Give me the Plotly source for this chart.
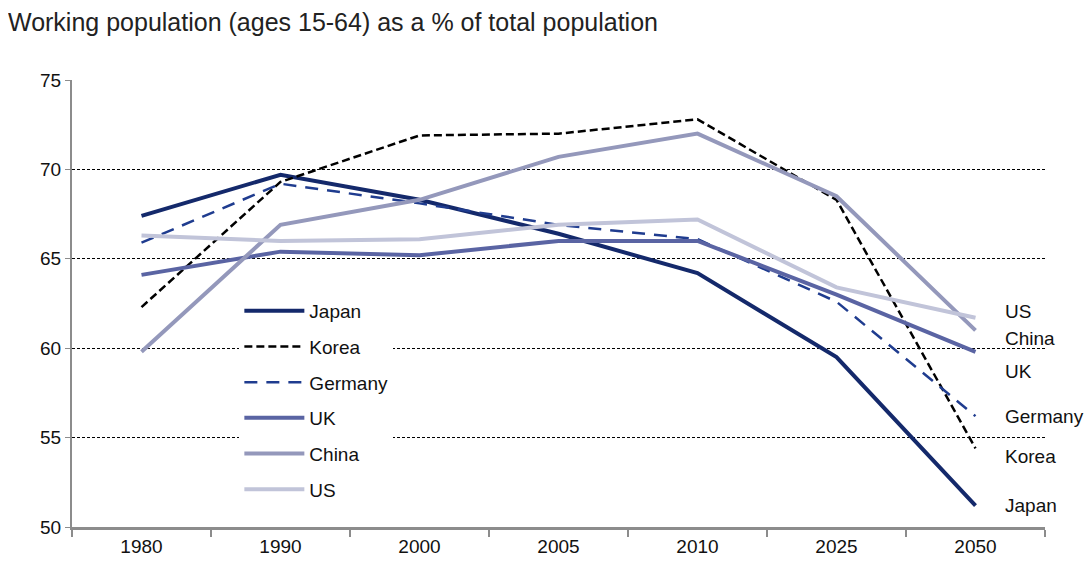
import plotly.graph_objects as go

years = ["1980", "1990", "2000", "2005", "2010", "2025", "2050"]

japan = [67.4, 69.7, 68.3, 66.4, 64.2, 59.5, 51.2]
korea = [62.3, 69.3, 71.9, 72.0, 72.8, 68.3, 54.4]
germany = [65.9, 69.2, 68.1, 66.9, 66.1, 62.6, 56.2]
uk = [64.1, 65.4, 65.2, 66.0, 66.0, 63.0, 59.8]
china = [59.8, 66.9, 68.3, 70.7, 72.0, 68.5, 61.0]
us = [66.3, 66.0, 66.1, 66.9, 67.2, 63.4, 61.7]

series = [
    ("Japan", japan, "#14296b", "solid", 4),
    ("Korea", korea, "#000000", "8px,4px", 2.5),
    ("Germany", germany, "#1f3c8f", "13px,9px", 2.5),
    ("UK", uk, "#5a64a3", "solid", 4),
    ("China", china, "#9498bb", "solid", 4),
    ("US", us, "#c1c4d9", "solid", 4),
]

FONT = "Liberation Sans, Arial"

fig = go.Figure()
for i, (name, vals, color, dash, w) in enumerate(series):
    fig.add_trace(go.Scatter(
        x=years, y=vals, name=name, mode="lines",
        line=dict(color=color, width=w, dash=dash),
        legendgroup=f"g{i}",
    ))

# right-side labels
label_names = ["US", "China", "UK", "Germany", "Korea", "Japan"]
label_y = [62.05, 60.55, 58.7, 56.2, 53.95, 51.2]
for name, yv in zip(label_names, label_y):
    fig.add_annotation(x=6, y=yv, xref="x", yref="y", text=name,
                       showarrow=False, xanchor="left", xshift=27,
                       font=dict(size=19, color="#111111", family=FONT))

fig.update_layout(
    width=1084, height=561,
    margin=dict(l=64, r=47, t=72, b=40),
    paper_bgcolor="white", plot_bgcolor="white",
    font=dict(family=FONT, color="#111111"),
    title=dict(text="Working population (ages 15-64) as a % of total population",
               x=0.0, xanchor="left", xref="container", y=0.99, yanchor="top",
               yref="container",
               font=dict(size=25, color="#222222", family=FONT)),
    legend=dict(x=0.172, y=0.526, xanchor="left", yanchor="top",
                bgcolor="white", font=dict(size=19, color="#111111"),
                tracegroupgap=8, itemwidth=60),
    showlegend=True,
)

fig.update_xaxes(
    type="category", showgrid=False,
    showline=True, linecolor="#8c8c8c", linewidth=3,
    ticks="outside", tickson="boundaries", ticklen=7, tickcolor="#8c8c8c", tickwidth=2,
    tickfont=dict(size=19, color="#111111"),
    range=[-0.5, 6.5],
)
fig.update_yaxes(
    range=[50, 75], dtick=5, tick0=50,
    showgrid=True, gridcolor="#000000", gridwidth=1, griddash="3px,2px",
    showline=True, linecolor="#8c8c8c", linewidth=2,
    ticks="outside", ticklen=5, tickcolor="#8c8c8c",
    tickfont=dict(size=19, color="#111111"),
    zeroline=False,
)

fig.write_html("out.html")
